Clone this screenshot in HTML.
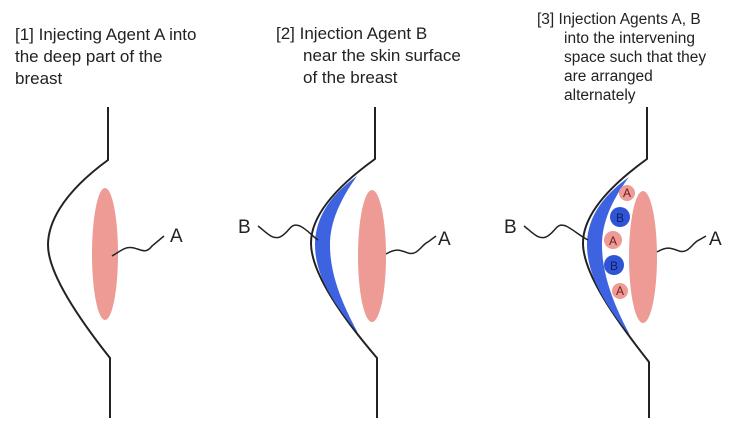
<!DOCTYPE html>
<html><head><style>body{margin:0;background:#fff}svg{display:block}</style></head><body>
<svg width="750" height="437" xmlns="http://www.w3.org/2000/svg" font-family="Liberation Sans, sans-serif">
<g font-size="17" fill="#222">
<text x="15" y="40">[1] Injecting Agent A into</text>
<text x="15" y="62">the deep part of the</text>
<text x="15" y="84">breast</text>
<text x="276" y="39">[2] Injection Agent B</text>
<text x="303" y="61">near the skin surface</text>
<text x="303" y="83">of the breast</text>
<text x="537" y="24" font-size="15.5">[3] Injection Agents A, B</text>
<text x="564" y="43" font-size="15.5">into the intervening</text>
<text x="564" y="62" font-size="15.5">space such that they</text>
<text x="564" y="81" font-size="15.5">are arranged</text>
<text x="564" y="100" font-size="15.5">alternately</text>
</g>
<g fill="none" stroke="#222" stroke-width="2">
<path d="M108 107 L108 160 C60 195 48 225 48 245 C48 270 72 310 110 358 L110 418"/>
<path d="M375 107 L375 159 C325 195 311 222 311 243 C311 270 336 310 377 358 L377 418"/>
<path d="M647 107 L647 159 C597 195 583 222 583 243 C583 270 608 310 649 362 L649 418"/>
</g>
<ellipse cx="105" cy="254" rx="13" ry="66" fill="#ee9a95"/>
<ellipse cx="372" cy="256" rx="14" ry="66" fill="#ee9a95"/>
<ellipse cx="643" cy="257" rx="14" ry="66" fill="#ee9a95"/>
<path d="M357 176 C326 198 315 222 315 245 C315 272 330 300 358 333 C340 300 330 272 330 245 C330 222 340 200 357 176Z" fill="#3d63e0"/>
<path d="M629 177 C598 199 587 222 587 245 C587 272 602 302 630 335 C612 302 602 272 602 245 C602 222 612 200 629 177Z" fill="#3d63e0"/>
<g font-size="12" text-anchor="middle">
<circle cx="627" cy="193" r="8" fill="#ee9a95"/><text x="627" y="197" fill="#6a1d1d">A</text>
<circle cx="620" cy="217" r="10" fill="#2f55d6"/><text x="620" y="222" fill="#102060">B</text>
<circle cx="613" cy="240" r="9" fill="#ee9a95"/><text x="613" y="245" fill="#6a1d1d">A</text>
<circle cx="614" cy="265" r="10" fill="#2f55d6"/><text x="614" y="270" fill="#102060">B</text>
<circle cx="620" cy="291" r="8" fill="#ee9a95"/><text x="620" y="295" fill="#6a1d1d">A</text>
</g>
<g fill="none" stroke="#222" stroke-width="1.5">
<path d="M112 256 C122 250 126 246 134 248 C142 250 146 254 152 246 L164 236"/>
<path d="M386 254 C396 248 400 250 408 253 C418 256 422 244 428 242 L436 236"/>
<path d="M258 226 C266 232 272 240 280 237 C290 232 290 222 300 226 C308 230 312 236 318 240"/>
<path d="M657 252 C667 246 671 248 679 251 C689 254 693 242 699 240 L706 236"/>
<path d="M524 226 C532 232 538 240 546 237 C556 232 556 222 566 226 C574 230 580 236 588 240"/>
</g>
<g font-size="19" fill="#222">
<text x="170" y="242">A</text>
<text x="438" y="245">A</text>
<text x="238" y="233">B</text>
<text x="709" y="245">A</text>
<text x="504" y="233">B</text>
</g>
</svg>
</body></html>
